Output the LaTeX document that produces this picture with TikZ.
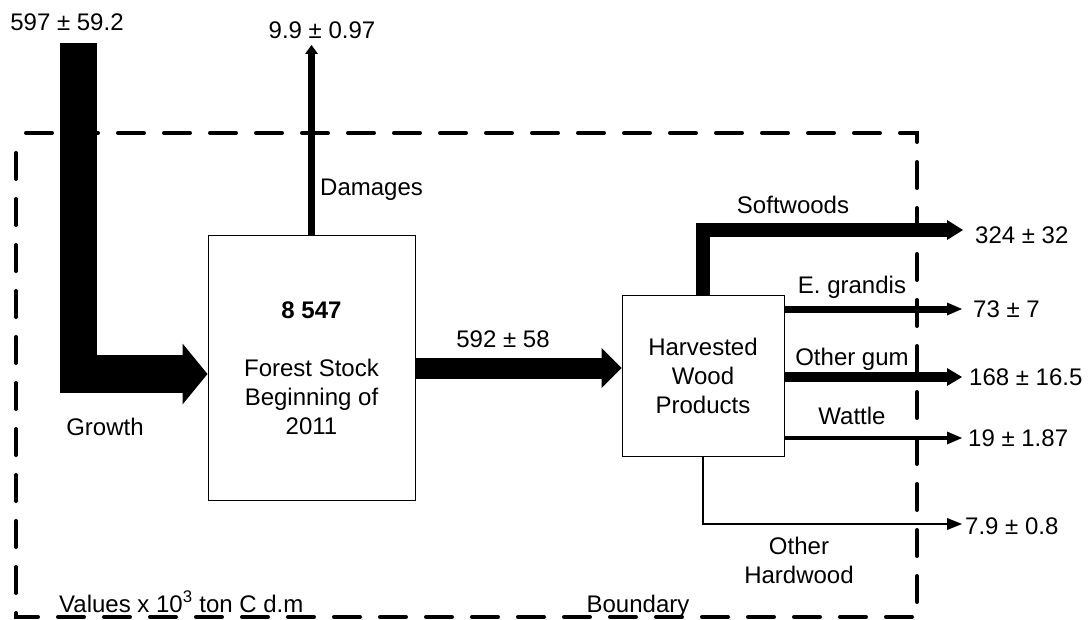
\documentclass[tikz,border=0pt]{standalone}
\usepackage{fontspec}
\setmainfont{Liberation Sans}
\usetikzlibrary{arrows.meta}
\tikzset{
  txt/.style={font=\fontsize{24}{29}\selectfont, inner sep=0pt},
  stockbox/.style={draw, line width=1pt, fill=white, align=center, inner sep=0pt,
    font=\fontsize{24}{29}\selectfont},
  flowtip/.style 2 args={-{Triangle[length=#1 0 0, width=#2 0 0, line width=0pt 0 0]}},
  boundary/.style={line width=4pt, dash pattern=on 26pt off 20pt, line cap=round},
}
\begin{document}
\begin{tikzpicture}[x=1pt, y=-1pt]
  \useasboundingbox (0,0) rectangle (1089,620);

  % system boundary
  \draw[boundary, dash phase=36pt] (16,133) -- (917,133) -- (917,617) -- (16,617) -- cycle;

  % stocks
  \node[stockbox, minimum width=207pt, minimum height=264pt] (forest) at (311.5,368)
    {\textbf{8 547}\\[29pt]Forest Stock\\Beginning of\\2011};
  \node[stockbox, minimum width=162pt, minimum height=161pt] (hwp) at (703,375.5)
    {Harvested\\Wood\\Products};

  % free ends of the flows
  \coordinate (gstart) at (78.5,43);
  \coordinate (gturn)  at (78.5,374);
  \coordinate (dtip)   at (311.5,45);
  \coordinate (swtip)  at (963,230);
  \coordinate (egtip)  at (962,309);
  \coordinate (ogtip)  at (962,377);
  \coordinate (wttip)  at (962,438);
  \coordinate (ohtip)  at (962,524);

  % growth into the forest stock
  \draw[line width=37.5pt, line join=miter, flowtip={25pt}{61pt}]
    (gstart) -- (gturn) -- (gturn -| forest.west);
  % damages
  \draw[line width=7pt, flowtip={9pt}{13pt}] (forest.north) -- (dtip);
  % harvest
  \draw[line width=21pt, flowtip={20pt}{40pt}] (forest.east) -- (forest.east -| hwp.west);
  % product streams
  \draw[line width=14pt, line join=miter, flowtip={16pt}{20pt}]
    (hwp.north) |- (swtip);
  \draw[line width=7pt, flowtip={15pt}{13pt}] (egtip -| hwp.east) -- (egtip);
  \draw[line width=10pt, flowtip={15pt}{18pt}] (ogtip -| hwp.east) -- (ogtip);
  \draw[line width=4pt, flowtip={15pt}{13pt}] (wttip -| hwp.east) -- (wttip);
  \draw[line width=2pt, flowtip={15pt}{12pt}] (hwp.south) |- (ohtip);

  % labels
  \node[txt] (gin)  at (67,22)   {597 ± 59.2};
  \node[txt] (gl)   at (105,427) {Growth};
  \node[txt] (dout) at (322,30)  {9.9 ± 0.97};
  \node[txt, anchor=west] (dl) at (320,190) {Damages};
  \node[txt] (hv)   at (503,339) {592 ± 58};
  \node[txt] (swl)  at (793,205) {Softwoods};
  \node[txt, anchor=west] (swv) at (975,235) {324 ± 32};
  \node[txt] (egl)  at (852,287) {E. grandis};
  \node[txt, anchor=west] (egv) at (973,309) {73 ± 7};
  \node[txt] (ogl)  at (852,359) {Other gum};
  \node[txt, anchor=west] (ogv) at (969,377) {168 ± 16.5};
  \node[txt] (wtl)  at (852,416) {Wattle};
  \node[txt, anchor=west] (wtv) at (968,438) {19 ± 1.87};
  \node[txt, align=center] (ohl) at (799,560) {Other\\Hardwood};
  \node[txt, anchor=west] (ohv) at (965,526) {7.9 ± 0.8};
  \node[txt, anchor=base west] (units) at (59,612) {Values x 10\textsuperscript{3} ton C d.m};
  \node[txt, anchor=base] (bl) at (638,612) {Boundary};
\end{tikzpicture}
\end{document}
